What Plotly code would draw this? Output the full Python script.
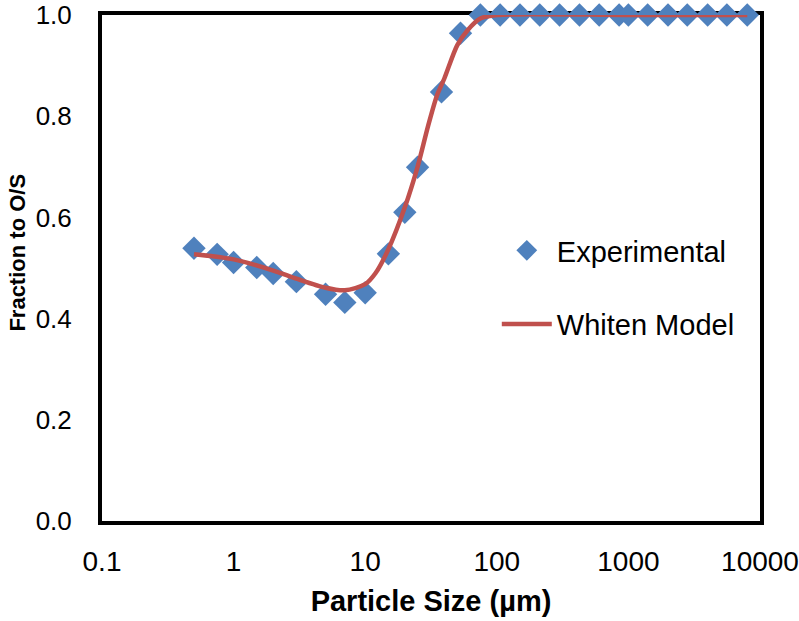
import plotly.graph_objects as go

# Experimental data
exp_size = [0.5, 0.75, 1, 1.5, 2, 3, 5, 7, 10, 15, 20, 25, 38, 53, 75, 106, 150, 212,
            300, 425, 600, 850, 1000, 1400, 2000, 2800, 4000, 5600, 8000]
exp_frac = [0.539, 0.527, 0.511, 0.501, 0.489, 0.473, 0.448, 0.432, 0.451, 0.528, 0.610,
            0.699, 0.848, 0.964, 1.0, 1.0, 1.0, 1.0, 1.0, 1.0, 1.0, 1.0, 1.0, 1.0, 1.0,
            1.0, 1.0, 1.0, 1.0]

# Whiten model curve
model_size = [0.5, 1, 2, 3, 5, 7, 10, 12, 15, 20, 25, 30, 35, 40, 50, 60, 75, 100,
              1000, 8000]
model_frac = [0.527, 0.517, 0.495, 0.479, 0.461, 0.456, 0.468, 0.49, 0.537, 0.62, 0.70,
              0.78, 0.84, 0.875, 0.94, 0.97, 0.993, 1.0, 1.0, 1.0]

x_ticks = [0.1, 1, 10, 100, 1000, 10000]
x_ticklabels = ["0.1", "1", "10", "100", "1000", "10000"]
y_ticks = [0.0, 0.2, 0.4, 0.6, 0.8, 1.0]

FONT = "Liberation Sans, Arial, sans-serif"

fig = go.Figure()
fig.add_trace(go.Scatter(
    x=exp_size, y=exp_frac, mode="markers", name="Experimental",
    legendgroup="a",
    marker=dict(symbol="diamond", size=18, color="#4F81BD"),
    cliponaxis=False,
))
fig.add_trace(go.Scatter(
    x=model_size, y=model_frac, mode="lines", name="Whiten Model",
    legendgroup="b",
    line=dict(color="#C0504D", width=4.5, shape="spline", smoothing=0.8),
    cliponaxis=False,
))

fig.update_layout(
    width=799, height=621,
    margin=dict(l=102, r=39, t=15, b=100),
    paper_bgcolor="white", plot_bgcolor="white",
    font=dict(family=FONT, color="black", size=28),
    legend=dict(
        x=0.6, y=0.585, xanchor="left", yanchor="top",
        font=dict(size=29, family=FONT),
        bgcolor="rgba(0,0,0,0)",
        tracegroupgap=33, traceorder="grouped",
        itemwidth=50,
    ),
    xaxis=dict(
        type="log", range=[-1, 4],
        tickvals=x_ticks, ticktext=x_ticklabels,
        showgrid=False, zeroline=False,
        showline=True, linecolor="black", linewidth=4, mirror=True,
        layer="below traces",
        ticks="", ticklabelstandoff=12, automargin=False,
        ticklabeloverflow="allow",
        tickfont=dict(size=28),
        title=dict(text="<b>Particle Size (µm)</b>", font=dict(size=29), standoff=16),
    ),
    yaxis=dict(
        range=[0, 1],
        tickvals=y_ticks, tickformat=".1f",
        showgrid=False, zeroline=False,
        showline=True, linecolor="black", linewidth=4, mirror=True,
        layer="below traces",
        ticks="", ticklabelstandoff=21, automargin=False,
        ticklabeloverflow="allow",
        tickfont=dict(size=26),
    ),
    annotations=[dict(
        text="<b>Fraction to O/S</b>", textangle=-90,
        xref="paper", yref="paper", x=-0.128, y=0.53,
        xanchor="center", yanchor="middle", showarrow=False,
        font=dict(size=22, family=FONT, color="black"),
    )],
)

fig.write_html("out.html", config={"displayModeBar": False},
               post_script="document.body.style.margin='0';")
